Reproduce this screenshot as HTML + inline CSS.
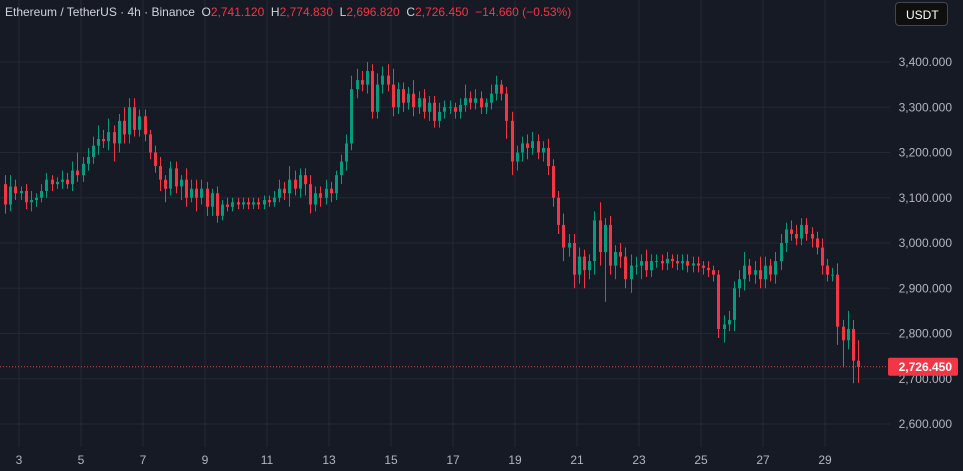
<!DOCTYPE html>
<html><head><meta charset="utf-8"><style>
html,body{margin:0;padding:0;background:#161a25;width:963px;height:471px;overflow:hidden;font-family:"Liberation Sans",sans-serif}
#hdr{position:absolute;left:5px;top:5px;font-size:12px;color:#d1d4dc;white-space:nowrap}
#hdr .r{color:#f23645}
#usdt{position:absolute;left:895px;top:2px;width:53px;height:24px;border:1px solid #434651;border-radius:4px;background:#0f0f0f;color:#fff;font-size:12px;line-height:24px;padding-left:10px;box-sizing:border-box}
</style></head><body>
<svg id="chart" width="963" height="471" style="position:absolute;left:0;top:0"></svg>
<div id="hdr">Ethereum / TetherUS · 4h · Binance &nbsp;O<span class="r">2,741.120</span> &nbsp;H<span class="r">2,774.830</span> &nbsp;L<span class="r">2,696.820</span> &nbsp;C<span class="r">2,726.450</span> &nbsp;<span class="r">−14.660 (−0.53%)</span></div>
<div id="usdt">USDT</div>
<script>
const closes=[3085,3125,3110,3115,3090,3095,
3100,3115,3140,3130,3135,3140,
3130,3160,3150,3175,3190,3215,
3230,3225,3245,3220,3270,3240,
3300,3250,3280,3240,3200,3170,
3140,3120,3165,3125,3140,3100,
3120,3100,3120,3080,3110,3060,
3085,3080,3090,3085,3090,3085,
3090,3085,3095,3090,3100,3120,
3110,3140,3120,3150,3130,3085,
3110,3100,3120,3110,3150,3180,
3220,3340,3360,3350,3380,3290,
3350,3370,3350,3300,3340,3310,
3330,3300,3320,3290,3310,3270,
3290,3300,3300,3290,3305,3320,
3310,3320,3300,3310,3330,3350,
3330,3270,3180,3200,3220,3210,
3225,3200,3210,3170,3100,3040,
2990,3000,2930,2970,2940,2960,
3050,2980,3040,2950,2980,2970,
2920,2950,2950,2960,2940,2960,
2960,2955,2965,2960,2955,2960,
2950,2955,2950,2945,2940,2930,
2810,2820,2830,2900,2920,2950,
2930,2940,2920,2950,2930,2960,
3000,3030,3020,3010,3040,3020,
3010,2990,2950,2930,2930,2815,
2785,2810,2740,2726];
const firstOpen=3130;
const wickUp=[20,25,15,10,15,20, 10,15,15,10,10,20, 15,20,40,15,20,20, 30,20,30,15,15,30, 20,20,15,15,10,15, 20,10,15,15,10,25, 20,20,20,15,10,15, 10,15,10,10,10,10, 10,10,10,10,15,20, 15,30,20,15,15,20, 15,15,20,15,10,15, 20,30,25,20,20,15, 25,20,25,35,15,15, 15,30,15,20,15,15, 20,15,15,10,15,30, 15,20,15,10,20,20, 10,15,20,15,15,20, 20,15,15,20,15,15, 25,20,20,20,15,15, 20,40,15,20,15,20, 20,25,20,15,25,15, 15,15,15,10,15,15, 15,15,15,10,15,10, 10,20,20,15,20,30, 15,20,30,20,15,20, 20,15,20,20,15,15, 15,15,20,15,15,25, 15,40,20,45];
const wickDn=[20,15,15,15,15,20, 15,10,15,15,10,15, 10,15,15,15,15,15, 20,15,20,40,20,20, 20,15,15,15,15,15, 25,30,15,15,30,20, 10,30,15,20,20,15, 10,10,10,10,10,10, 10,10,10,10,10,10, 15,30,15,20,25,20, 15,20,15,20,15,20, 20,15,20,15,20,15, 15,20,15,20,15,20, 15,20,15,15,20,15, 15,15,15,15,15,15, 15,15,15,15,15,15, 15,40,30,20,20,25, 15,15,20,20,20,20, 30,20,30,20,40,20, 30,30,110,20,30,25, 20,30,20,30,15,15, 15,15,15,15,15,15, 15,15,15,15,15,15, 20,30,15,25,20,25, 15,20,20,20,15,20, 20,20,15,15,15,15, 20,15,20,15,15,40, 60,20,50,35];
const yTicks=[3400,3300,3200,3100,3000,2900,2800,2700,2600];
const xLabels=["3","5","7","9","11","13","15","17","19","21","23","25","27","29"];
const lastPrice=2726.45;

const NS="http://www.w3.org/2000/svg";
const svg=document.getElementById('chart');
const y=v=>62+(3400-v)*0.4525;
const x=i=>5+i*5.17;
const xl=k=>19+k*62;
function mk(t,a,p){const e=document.createElementNS(NS,t);for(const k in a)e.setAttribute(k,a[k]);(p||svg).appendChild(e);return e;}
const grid=mk('g',{});


yTicks.forEach(v=>{
  const l=mk('line',{x1:0,x2:890,y1:y(v),y2:y(v),stroke:'#242833','stroke-width':1},grid);
  
  
  const t=mk('text',{x:952,y:y(v)+4,'text-anchor':'end',fill:'#b2b5be','font-size':12,'font-family':'Liberation Sans, sans-serif'});
  t.textContent=v.toLocaleString('en-US')+'.000';
  
  
});
xLabels.forEach((s,k)=>{
  const l=mk('line',{x1:xl(k),x2:xl(k),y1:0,y2:447,stroke:'#242833','stroke-width':1},grid);
  
  
  const t=mk('text',{x:xl(k),y:464,'text-anchor':'middle',fill:'#b2b5be','font-size':12,'font-family':'Liberation Sans, sans-serif'});
  t.textContent=s;
  
  
});
const pl=mk('line',{x1:0,x2:888,y1:y(lastPrice),y2:y(lastPrice),stroke:'#f23645','stroke-width':1,'stroke-dasharray':'1 2'});


const cg=mk('g',{});


closes.forEach((c,i)=>{
  const o=i===0?firstOpen:closes[i-1];
  const hi=Math.max(o,c)+wickUp[i], lo=Math.min(o,c)-wickDn[i];
  const col=c>=o?'#089981':'#f23645';
  const cx=Math.round(x(i))+0.5;
  const w=mk('line',{x1:cx,x2:cx,y1:y(hi),y2:y(lo),stroke:col,'stroke-width':1},cg);
  
  
  const top=y(Math.max(o,c)),h=Math.max(1,y(Math.min(o,c))-top);
  const b=mk('rect',{x:cx-1.5,y:top,width:3,height:h,fill:col},cg);
  
  
});
const lb=mk('rect',{x:888,y:y(lastPrice)-9,width:70,height:18,fill:'#f23645',rx:2});


const lt=mk('text',{x:952,y:y(lastPrice)+4,'text-anchor':'end',fill:'#fff','font-size':12,'font-weight':'bold','font-family':'Liberation Sans, sans-serif'});
lt.textContent=lastPrice.toLocaleString('en-US',{minimumFractionDigits:3});


</script>
</body></html>
